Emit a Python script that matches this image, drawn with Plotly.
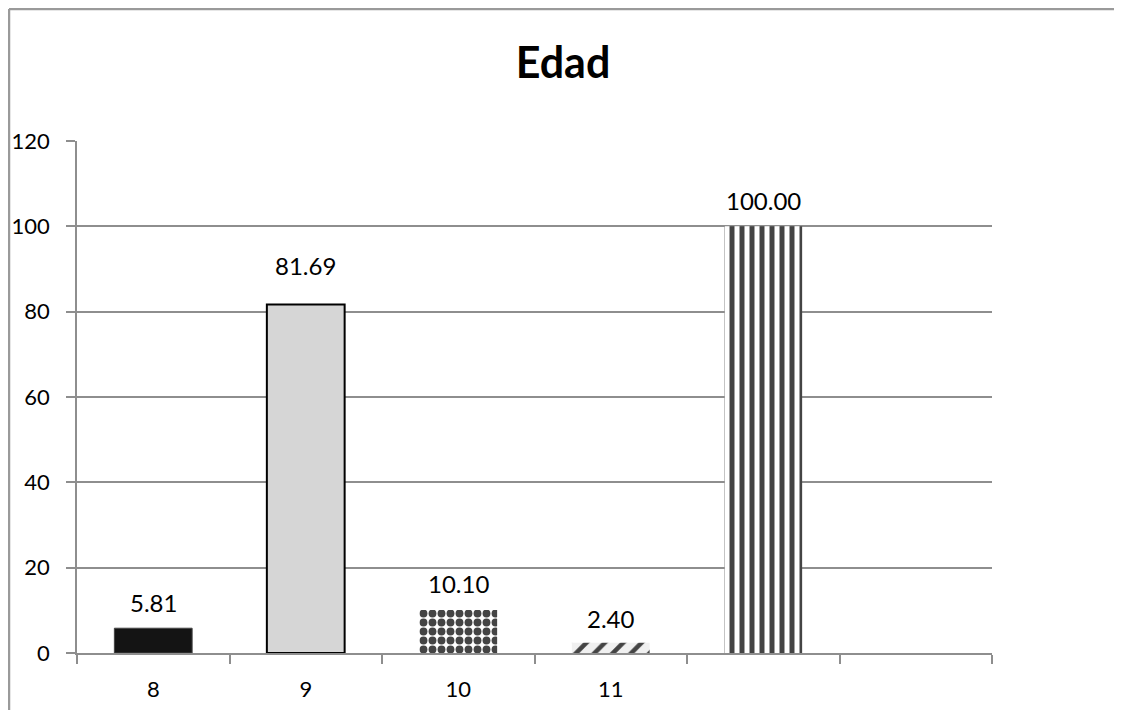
import plotly.graph_objects as go

categories = ["8", "9", "10", "11", "", ""]
values = [5.81, 81.69, 10.10, 2.40, 100.00]
value_labels = ["5.81", "81.69", "10.10", "2.40", "100.00"]
y_ticks = [0, 20, 40, 60, 80, 100, 120]

# styles
fills = ["#141414", "#d6d6d6", "white", "#f0f0f0", "white"]
shapes_pat = ["", "", ".", "/", "|"]
pat_fg = ["black", "black", "black", "#2a2a2a", "black"]
pat_size = [8, 8, 9, 13, 10]
pat_solid = [0.3, 0.3, 0.6, 0.35, 0.5]
line_w = [1, 2, 0, 0, 0]
line_c = ["#444444", "black", "white", "white", "white"]
label_shift = [26, 39, 26, 24, 26]

GRID = "#8e8e8e"
FONT = "Lato"

W, H = 1114, 702
L, R, T, B = 69, 130, 133, 57
PW, PH = W - L - R, H - T - B

xpos = list(range(len(values)))

fig = go.Figure()
fig.add_trace(go.Bar(
    x=xpos, y=values, width=0.51,
    marker=dict(
        color=fills,
        line=dict(color=line_c, width=line_w),
        pattern=dict(shape=shapes_pat, fgcolor=pat_fg, bgcolor=fills, fgopacity=1,
                     size=pat_size, solidity=pat_solid, fillmode="overlay"),
    ),
    hoverinfo="skip",
))

for x, v, t, s in zip(xpos, values, value_labels, label_shift):
    fig.add_annotation(x=x, y=v, text=t, showarrow=False, yanchor="middle",
                       yshift=s, font=dict(family=FONT, size=24, color="black"))

# outer chart border (left and top edges)
bx = (1 - L) / PW
by = 1 + (T - 1) / PH
fig.add_shape(type="line", xref="paper", yref="paper", x0=bx, x1=bx,
              y0=-0.3, y1=by, line=dict(color="#9a9a9a", width=2.5))
fig.add_shape(type="line", xref="paper", yref="paper", x0=bx, x1=1.3,
              y0=by, y1=by, line=dict(color="#9a9a9a", width=2.5))

fig.update_layout(
    width=W, height=H,
    margin=dict(l=L, r=R, t=T, b=B),
    paper_bgcolor="white", plot_bgcolor="white",
    showlegend=False,
    title=dict(text="<b>Edad</b>", x=555 / W, xanchor="center",
               y=1 - 55 / H, yanchor="middle",
               font=dict(family=FONT, size=43, color="black")),
    font=dict(family=FONT, color="black"),
    xaxis=dict(
        range=[-0.5, len(categories) - 0.5],
        tickmode="array", tickvals=list(range(len(categories))), ticktext=categories,
        ticks="", showgrid=False, zeroline=False, automargin=False,
        showline=True, linecolor=GRID, linewidth=1.5,
        tickfont=dict(family=FONT, size=22, color="black"),
        ticklabelstandoff=16,
        minor=dict(ticks="outside", tick0=-0.5, dtick=1, ticklen=9,
                   tickcolor=GRID, tickwidth=1.5, showgrid=False),
        fixedrange=True,
    ),
    yaxis=dict(
        range=[0, 120], tickmode="array", tickvals=y_ticks,
        ticks="outside", ticklen=9, tickcolor=GRID, tickwidth=1.5,
        showgrid=True, gridcolor=GRID, gridwidth=1.5, automargin=False,
        showline=True, linecolor=GRID, linewidth=1.5, zeroline=False,
        tickfont=dict(family=FONT, size=22, color="black"),
        ticklabelstandoff=12,
        fixedrange=True,
    ),
)

fig.write_html("out.html")
